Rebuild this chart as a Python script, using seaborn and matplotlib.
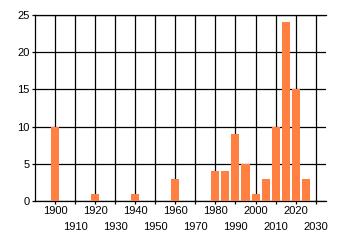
import matplotlib
matplotlib.use("Agg")
import matplotlib.pyplot as plt
import seaborn as sns
import pandas as pd

years = [1900, 1920, 1940, 1960, 1980, 1985, 1990, 1995, 2000, 2005, 2010, 2015, 2020, 2025]
counts = [10, 1, 1, 3, 4, 4, 9, 5, 1, 3, 10, 24, 15, 3]
major_years = [1900, 1920, 1940, 1960, 1980, 2000, 2020]
minor_years = [1910, 1930, 1950, 1970, 1990, 2010, 2030]
y_ticks = [0, 5, 10, 15, 20, 25]

sns.set_theme(style="white")
plt.rcParams['font.family'] = ['Liberation Sans', 'DejaVu Sans']

df = pd.DataFrame({"year": years, "count": counts})

fig = plt.figure(figsize=(3.4, 2.45), dpi=100)
ax = fig.add_axes([35/340, 1 - 201/245, (325.7 - 35)/340, (201 - 15)/245])

sns.barplot(data=df, x="year", y="count", native_scale=True, color="#FF8040",
            saturation=1, width=0.8, ax=ax, zorder=3, errorbar=None,
            linewidth=0, edgecolor="#FF8040")

ax.set_xlim(1890, 2035)
ax.set_ylim(0, 25)
ax.set_xticks(major_years)
ax.set_xticklabels([str(y) for y in major_years])
ax.set_xticks(minor_years, minor=True)
ax.set_xticklabels([str(y) for y in minor_years], minor=True)
ax.set_yticks(y_ticks)
ax.set_yticklabels([str(v) for v in y_ticks])

ax.set_xlabel("")
ax.set_ylabel("")

ax.grid(True, which="both", axis="x", color="black", linewidth=0.9, zorder=0)
ax.grid(True, which="major", axis="y", color="black", linewidth=0.9, zorder=0)
ax.set_axisbelow(True)

ax.tick_params(axis="x", which="major", direction="out", length=2.3, width=0.9,
               color="black", pad=1.5, labelsize=8, labelcolor="black", bottom=True)
ax.tick_params(axis="x", which="minor", direction="out", length=2.3, width=0.9,
               color="black", pad=13, labelsize=8, labelcolor="black", bottom=True)
ax.tick_params(axis="y", which="major", direction="out", length=2.0, width=0.9,
               color="black", pad=2, labelsize=8, labelcolor="black", left=True)

for side in ["top", "bottom", "left"]:
    ax.spines[side].set_visible(True)
    ax.spines[side].set_color("black")
    ax.spines[side].set_linewidth(0.9)
ax.spines["right"].set_visible(False)

fig.savefig("out.png", dpi=100, facecolor="white")
